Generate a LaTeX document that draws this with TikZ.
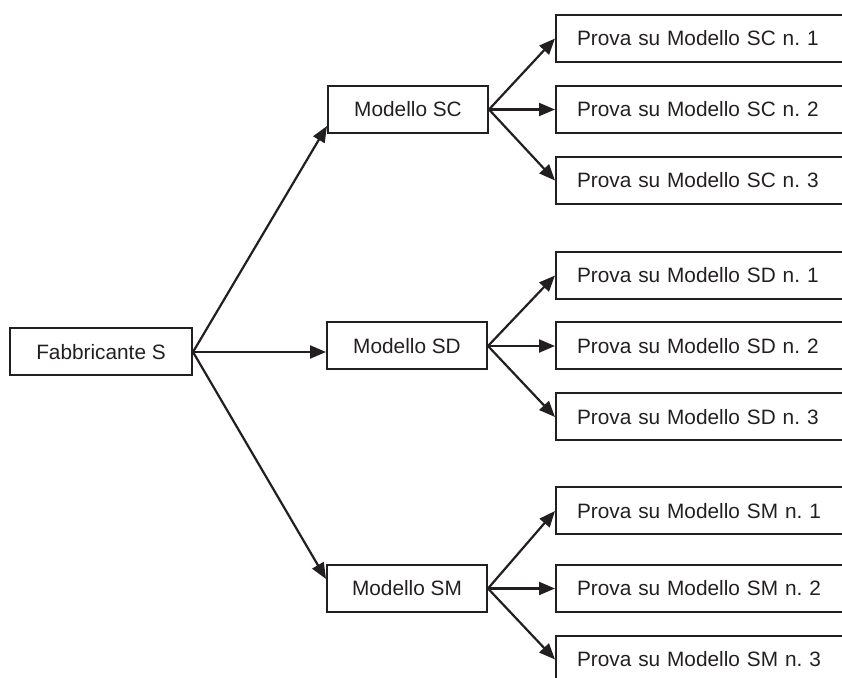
\documentclass[tikz,border=0pt]{standalone}
\usepackage{fontspec}
\setmainfont{Liberation Sans}
\usepackage{xcolor}
\usepackage{tikz}
\usetikzlibrary{arrows.meta}
\definecolor{TreeInk}{HTML}{231F20}
\frenchspacing

\tikzset{
  box/.style={draw=TreeInk,line width=1pt,minimum height=23.5pt,inner sep=0pt,
    text=TreeInk,font=\fontsize{10.4}{12.5}\selectfont},
  modelbox/.style={box,minimum width=80pt},
  testbox/.style={box,anchor=west,text width=139.5pt,align=left,inner xsep=10.5pt},
  link/.style={draw=TreeInk,line width=1.1pt,-{Triangle[length=8pt,width=6.5pt]}},
}

\begin{document}
\begin{tikzpicture}[x=0.5pt,y=-0.5pt]
\path[use as bounding box] (0,0) rectangle (842,678);
\clip (0,0) rectangle (842,678);
\node[box,minimum width=91pt] (fab) at (101,352) {Fabbricante S};
\node[modelbox] (msc) at (408,109.5) {Modello SC};
\node[modelbox] (msd) at (407,346) {Modello SD};
\node[modelbox] (msm) at (407,588.5) {Modello SM};
\node[testbox] (psc1) at (555,38.5) {Prova su Modello SC n. 1};
\node[testbox] (psc2) at (555,109.5) {Prova su Modello SC n. 2};
\node[testbox] (psc3) at (555,180.5) {Prova su Modello SC n. 3};
\node[testbox] (psd1) at (555,275.5) {Prova su Modello SD n. 1};
\node[testbox] (psd2) at (555,346) {Prova su Modello SD n. 2};
\node[testbox] (psd3) at (555,417) {Prova su Modello SD n. 3};
\node[testbox] (psm1) at (555,511) {Prova su Modello SM n. 1};
\node[testbox] (psm2) at (555,588.5) {Prova su Modello SM n. 2};
\node[testbox] (psm3) at (555,659.5) {Prova su Modello SM n. 3};
\draw[link] (fab.east) -- ([yshift=4pt]msc.south west);
\draw[link] (fab.east) -- (fab.east -| msd.west);
\draw[link] (fab.east) -- ([yshift=-7.5pt]msm.north west);
\draw[link] (msc.east) -- (psc1.west);
\draw[link] (msc.east) -- (psc2.west);
\draw[link] (msc.east) -- (psc3.west);
\draw[link] (msd.east) -- (psd1.west);
\draw[link] (msd.east) -- (psd2.west);
\draw[link] (msd.east) -- (psd3.west);
\draw[link] (msm.east) -- (psm1.west);
\draw[link] (msm.east) -- (psm2.west);
\draw[link] (msm.east) -- (psm3.west);
\end{tikzpicture}
\end{document}
